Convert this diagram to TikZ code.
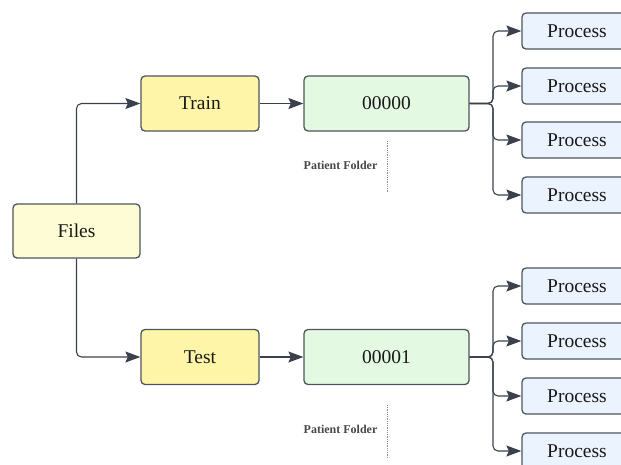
\documentclass[tikz,border=0pt]{standalone}
\usepackage{fontspec}
\setmainfont{Liberation Serif}
\usetikzlibrary{arrows.meta, positioning}

\definecolor{edgegray}{HTML}{4F555D}
\definecolor{tipgray}{HTML}{3A414C}
\definecolor{filesfill}{HTML}{FDFCD4}
\definecolor{splitfill}{HTML}{FFF5A8}
\definecolor{folderfill}{HTML}{E4F9E1}
\definecolor{procfill}{HTML}{EBF3FE}

\tikzset{
    box/.style={
        rectangle,
        rounded corners=4pt,
        draw=edgegray,
        line width=1.3pt,
        text=black!90,
        font=\fontsize{19.5}{22}\selectfont,
        inner sep=0pt
    },
    filesbox/.style={box, fill=filesfill, minimum width=127pt, minimum height=54pt},
    splitbox/.style={box, fill=splitfill, minimum width=118pt, minimum height=55pt},
    folderbox/.style={box, fill=folderfill, minimum width=165pt, minimum height=55pt},
    procbox/.style={box, fill=procfill, minimum width=110pt, minimum height=36pt},
    link/.style={
        -{Stealth[length=15pt, width=11pt, inset=2.5pt]},
        draw=edgegray,
        color=tipgray,
        line width=1.1pt,
        rounded corners=5pt
    },
    note/.style={
        font=\fontsize{12}{14}\selectfont\bfseries,
        text=black!72
    },
    marker/.style={
        draw=black!45,
        densely dotted,
        line width=0.8pt
    }
}

\begin{document}
\begin{tikzpicture}[x=1pt, y=-1pt]

    \useasboundingbox (0,0) rectangle (621,464);

    % Root and the two splits
    \node[filesbox] (files) at (76.5,231) {Files};
    \node[splitbox] (train) at (200,103.5) {Train};
    \node[splitbox] (test)  at (200,357) {Test};

    % Patient folders
    \node[folderbox] (d0) at (386.5,103.5) {00000};
    \node[folderbox] (d1) at (386.5,357) {00001};

    % Process steps for each folder
    \foreach \y [count=\i] in {31,86,140,195} {
        \node[procbox] (pa\i) at (577,\y) {Process};
    }
    \foreach \y [count=\i] in {286,341,396,451} {
        \node[procbox] (pb\i) at (577,\y) {Process};
    }

    % Branch points
    \coordinate (ja) at (493,103.5);
    \coordinate (jb) at (493,357);

    % Edges
    \draw[link] (files.north) |- (train.west);
    \draw[link] (files.south) |- (test.west);
    \draw[link, rounded corners=0pt] (train.east) -- (d0.west);
    \draw[link, rounded corners=0pt] (test.east) -- (d1.west);

    \foreach \i in {1,...,4} {
        \draw[link] (d0.east) -- (ja) |- (pa\i.west);
        \draw[link] (d1.east) -- (jb) |- (pb\i.west);
    }

    % Folder notes
    \node[note] (n0) at (340.5,165) {Patient Folder};
    \node[note] (n1) at (340.5,429) {Patient Folder};
    \coordinate (m0a) at (387,141);
    \coordinate (m0b) at (387,193);
    \coordinate (m1a) at (387,405);
    \coordinate (m1b) at (387,459);
    \draw[marker] (m0a) -- (m0b);
    \draw[marker] (m1a) -- (m1b);

\end{tikzpicture}
\end{document}
